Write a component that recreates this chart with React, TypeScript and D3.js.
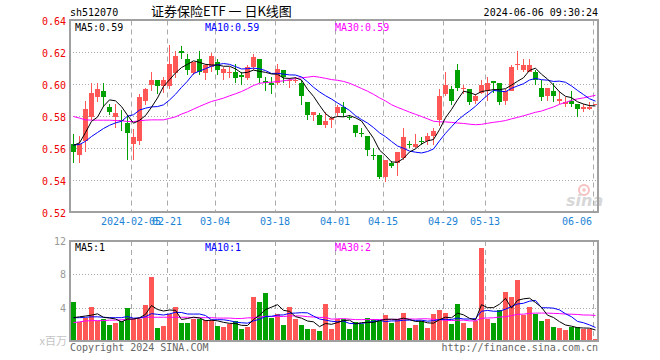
import * as d3 from 'd3';

// trading days shown (2024-01-22 .. 2024-06-06)
const dates = [
  '2024-01-22', '2024-01-23', '2024-01-24', '2024-01-25', '2024-01-26', '2024-01-29', '2024-01-30', '2024-01-31',
  '2024-02-01', '2024-02-02', '2024-02-05', '2024-02-06', '2024-02-07', '2024-02-08',
  '2024-02-19', '2024-02-20', '2024-02-21', '2024-02-22', '2024-02-23', '2024-02-26', '2024-02-27', '2024-02-28', '2024-02-29',
  '2024-03-01', '2024-03-04', '2024-03-05', '2024-03-06', '2024-03-07', '2024-03-08', '2024-03-11', '2024-03-12', '2024-03-13',
  '2024-03-14', '2024-03-15', '2024-03-18', '2024-03-19', '2024-03-20', '2024-03-21', '2024-03-22', '2024-03-25', '2024-03-26',
  '2024-03-27', '2024-03-28', '2024-03-29',
  '2024-04-01', '2024-04-02', '2024-04-03', '2024-04-08', '2024-04-09', '2024-04-10', '2024-04-11', '2024-04-12', '2024-04-15',
  '2024-04-16', '2024-04-17', '2024-04-18', '2024-04-19', '2024-04-22', '2024-04-23', '2024-04-24', '2024-04-25', '2024-04-26',
  '2024-04-29', '2024-04-30',
  '2024-05-06', '2024-05-07', '2024-05-08', '2024-05-09', '2024-05-10', '2024-05-13', '2024-05-14', '2024-05-15', '2024-05-16',
  '2024-05-17', '2024-05-20', '2024-05-21', '2024-05-22', '2024-05-23', '2024-05-24', '2024-05-27', '2024-05-28', '2024-05-29',
  '2024-05-30', '2024-05-31',
  '2024-06-03', '2024-06-04', '2024-06-05', '2024-06-06',
];

const open = [
  0.563, 0.556, 0.565, 0.580, 0.592, 0.596, 0.586, 0.580, 0.578, 0.576,
  0.563, 0.565, 0.590, 0.600, 0.603, 0.599, 0.599, 0.607, 0.621, 0.616,
  0.607, 0.616, 0.607, 0.611, 0.614, 0.607, 0.607, 0.608, 0.606, 0.604,
  0.611, 0.616, 0.602, 0.601, 0.601, 0.609, 0.602, 0.602, 0.601, 0.589,
  0.581, 0.581, 0.575, 0.578, 0.582, 0.586, 0.580, 0.575, 0.570, 0.568,
  0.556, 0.556, 0.542, 0.551, 0.551, 0.554, 0.563, 0.561, 0.565, 0.565,
  0.568, 0.578, 0.594, 0.597, 0.609, 0.597, 0.597, 0.590, 0.595, 0.596,
  0.602, 0.601, 0.590, 0.596, 0.612, 0.609, 0.608, 0.608, 0.598, 0.593,
  0.596, 0.590, 0.588, 0.590, 0.588, 0.585, 0.585, 0.587,
];
const high = [
  0.569, 0.568, 0.590, 0.601, 0.601, 0.601, 0.588, 0.588, 0.584, 0.581,
  0.572, 0.594, 0.598, 0.608, 0.603, 0.605, 0.625, 0.621, 0.624, 0.619,
  0.614, 0.621, 0.613, 0.620, 0.616, 0.611, 0.611, 0.613, 0.608, 0.612,
  0.619, 0.616, 0.605, 0.605, 0.613, 0.609, 0.604, 0.605, 0.603, 0.589,
  0.583, 0.582, 0.583, 0.580, 0.587, 0.589, 0.581, 0.575, 0.573, 0.568,
  0.560, 0.556, 0.553, 0.552, 0.558, 0.573, 0.565, 0.569, 0.567, 0.570,
  0.573, 0.597, 0.608, 0.599, 0.613, 0.600, 0.597, 0.594, 0.603, 0.605,
  0.602, 0.601, 0.597, 0.612, 0.621, 0.616, 0.616, 0.609, 0.603, 0.598,
  0.601, 0.596, 0.592, 0.596, 0.588, 0.588, 0.589, 0.588,
];
const low = [
  0.551, 0.551, 0.558, 0.578, 0.589, 0.586, 0.581, 0.573, 0.571, 0.553,
  0.553, 0.562, 0.587, 0.596, 0.594, 0.595, 0.597, 0.604, 0.616, 0.606,
  0.606, 0.606, 0.603, 0.608, 0.606, 0.603, 0.604, 0.601, 0.600, 0.603,
  0.609, 0.601, 0.596, 0.594, 0.600, 0.601, 0.598, 0.601, 0.587, 0.578,
  0.577, 0.575, 0.573, 0.573, 0.580, 0.580, 0.578, 0.567, 0.567, 0.555,
  0.553, 0.541, 0.539, 0.548, 0.543, 0.553, 0.560, 0.560, 0.562, 0.562,
  0.562, 0.574, 0.593, 0.587, 0.596, 0.594, 0.587, 0.588, 0.594, 0.590,
  0.595, 0.587, 0.587, 0.596, 0.609, 0.608, 0.608, 0.600, 0.590, 0.590,
  0.589, 0.588, 0.586, 0.586, 0.580, 0.583, 0.584, 0.587,
];
const close = [
  0.558, 0.563, 0.585, 0.595, 0.597, 0.592, 0.583, 0.582, 0.577, 0.570,
  0.567, 0.592, 0.597, 0.603, 0.599, 0.603, 0.613, 0.618, 0.620, 0.609,
  0.614, 0.608, 0.612, 0.618, 0.609, 0.610, 0.608, 0.604, 0.605, 0.611,
  0.617, 0.604, 0.601, 0.600, 0.610, 0.605, 0.603, 0.603, 0.593, 0.581,
  0.583, 0.575, 0.577, 0.579, 0.586, 0.582, 0.579, 0.570, 0.569, 0.559,
  0.555, 0.542, 0.553, 0.549, 0.558, 0.567, 0.562, 0.563, 0.564, 0.568,
  0.571, 0.593, 0.600, 0.590, 0.598, 0.598, 0.589, 0.593, 0.600, 0.601,
  0.601, 0.589, 0.596, 0.611, 0.613, 0.612, 0.612, 0.603, 0.592, 0.598,
  0.593, 0.591, 0.589, 0.588, 0.585, 0.586, 0.586, 0.588,
];

// volume, millions
const volume = [
  4.7, 2.3, 2.8, 4.1, 2.4, 2.6, 1.9, 2.2, 2.4, 4.0,
  2.7, 2.6, 4.3, 7.7, 1.6, 1.8, 3.2, 4.1, 2.2, 2.2,
  2.6, 2.7, 2.5, 2.5, 1.8, 1.7, 2.1, 2.4, 1.4, 1.7,
  5.3, 4.7, 5.8, 2.8, 3.2, 1.9, 4.1, 2.6, 1.9, 1.5,
  1.4, 1.2, 4.5, 1.4, 2.6, 2.6, 1.4, 2.3, 2.1, 2.8,
  2.6, 2.4, 3.1, 2.2, 2.6, 3.4, 1.6, 1.9, 2.4, 1.6,
  3.2, 3.7, 3.4, 2.0, 4.4, 2.2, 1.6, 2.4, 11.2, 2.6,
  2.2, 3.7, 5.9, 5.3, 7.3, 3.1, 4.1, 3.3, 2.4, 2.6,
  1.7, 1.6, 1.3, 1.7, 1.7, 1.5, 1.5, 0.2,
];

// MA values before a full window exists
const ma5Lead = [0.562, 0.5635, 0.57, 0.577];
const ma10Lead = [0.5622, 0.5625, 0.5645, 0.5675, 0.57, 0.5725, 0.5745, 0.576, 0.577];
const ma30Lead = [
  0.58, 0.579, 0.5779, 0.5777, 0.5777, 0.5777, 0.5777, 0.5775, 0.5773, 0.5769,
  0.5768, 0.5773, 0.5777, 0.5779, 0.5779, 0.5779, 0.5788, 0.5798, 0.5815, 0.5829,
  0.5846, 0.5863, 0.5879, 0.5894, 0.5904, 0.5915, 0.5929, 0.5942, 0.5956,
];
const vma5Lead = [2.8, 2.9, 3.0, 3.1];
const vma10Lead = [2.8, 2.8, 2.85, 2.9, 2.9, 2.85, 2.8, 2.8, 2.8];
const vma30Lead = [
  2.2, 2.3, 2.4, 2.45, 2.45, 2.45, 2.5, 2.5, 2.55, 2.6,
  2.65, 2.75, 2.85, 2.85, 2.85, 2.85, 2.85, 2.85, 2.85, 2.85,
  2.8, 2.8, 2.8, 2.8, 2.75, 2.75, 2.75, 2.7, 2.7,
];

// legend readouts as printed on the chart
const priceMaLabels = ['0.59', '0.59', '0.59'];
const volMaLabels = ['1', '1', '2'];

const priceTicks = [0.52, 0.54, 0.56, 0.58, 0.6, 0.62, 0.64];
const volTicks = [4, 8, 12];
const tickDates = ['2024-02-05', '2024-02-21', '2024-03-04', '2024-03-18', '2024-04-01', '2024-04-15', '2024-04-29', '2024-05-13', '2024-06-06'];

const RED = '#ff5656';
const GREEN = '#01a101';
const MONO = '"DejaVu Sans Mono", "Liberation Mono", monospace';
const CJK = '"Noto Sans CJK SC", sans-serif';

const movingAvg = (vals: number[], n: number, lead: number[]) =>
  vals.map((v, i) => (i < n - 1 ? lead[i] : (d3.mean(vals.slice(i - n + 1, i + 1)) as number)));

export default function App() {
  const left = 70, right = 598;
  const pTop = 20.5, pBottom = 212.5;
  const vTop = 241, vBottom = 341;

  const x = d3.scaleBand<string>().domain(dates).range([left, right]);
  const y = d3.scaleLinear().domain([0.52, 0.64]).range([pBottom, pTop]);
  const vy = d3.scaleLinear().domain([0, 12]).range([vBottom, vTop]);
  const cx = (i: number) => (x(dates[i]) as number) + 3.5;

  const ma5 = movingAvg(close, 5, ma5Lead);
  const ma10 = movingAvg(close, 10, ma10Lead);
  const ma30 = movingAvg(close, 30, ma30Lead);
  const vma5 = movingAvg(volume, 5, vma5Lead);
  const vma10 = movingAvg(volume, 10, vma10Lead);
  const vma30 = movingAvg(volume, 30, vma30Lead);

  const priceLine = d3.line<number>().x((_, i) => cx(i)).y((v) => y(v));
  const volLine = d3.line<number>().x((_, i) => cx(i)).y((v) => vy(v));

  const fmt = d3.format('.2f');

  return (
    <svg width={660} height={360} style={{ position: 'absolute', left: 0, top: 0, background: '#fff' }}>
      {/* header */}
      <text x={70} y={16} fontFamily={MONO} fontSize={10} fill="#000">sh512070</text>
      <text x={151} y={16} fontFamily={CJK} fontSize={13} fill="#000">证券保险ETF 一 日K线图</text>
      <text x={598} y={16} textAnchor="end" fontFamily={MONO} fontSize={10} fill="#000">2024-06-06 09:30:24</text>

      {/* grids */}
      {priceTicks.slice(1, -1).map((t) => (
        <line key={t} x1={left} x2={right} y1={y(t)} y2={y(t)} stroke="#aaa" strokeDasharray="1,2" />
      ))}
      {tickDates.map((d) => (
        <g key={d}>
          <line x1={(x(d) as number) + 1.5} x2={(x(d) as number) + 1.5} y1={pTop} y2={pBottom} stroke="#aaa" strokeDasharray="5,4" />
          <line x1={(x(d) as number) + 1.5} x2={(x(d) as number) + 1.5} y1={vTop} y2={vBottom} stroke="#aaa" strokeDasharray="5,4" />
        </g>
      ))}
      {volTicks.slice(0, -1).map((t) => (
        <line key={t} x1={left} x2={right} y1={Math.round(vy(t)) + 0.5} y2={Math.round(vy(t)) + 0.5} stroke="#aaa" strokeDasharray="1,2" />
      ))}

      {/* watermark */}
      <g opacity={0.55}>
        <circle cx={584} cy={190} r={5} fill="none" stroke="#f09090" strokeWidth={2} />
        <circle cx={584} cy={190} r={1.8} fill="#f09090" />
        <text x={566} y={206} fontFamily='"DejaVu Sans", sans-serif' fontStyle="italic" fontWeight="bold" fontSize={16} fill="#b8b8b8">sina</text>
      </g>

      {/* candles */}
      {dates.map((d, i) => {
        const up = close[i] >= open[i];
        const col = up ? RED : GREEN;
        const top = Math.round(y(Math.max(open[i], close[i])));
        const bot = Math.round(y(Math.min(open[i], close[i])));
        const bx = (x(d) as number) + 1;
        return (
          <g key={d}>
            <line x1={cx(i)} x2={cx(i)} y1={Math.round(y(high[i]))} y2={Math.round(y(low[i]))} stroke={col} />
            <rect x={bx} y={top} width={5} height={Math.max(1, bot - top)} fill={col} />
          </g>
        );
      })}

      <path d={priceLine(ma30) ?? ''} fill="none" stroke="#ff00ff" strokeWidth={1} />
      <path d={priceLine(ma10) ?? ''} fill="none" stroke="#0000ff" strokeWidth={1} />
      <path d={priceLine(ma5) ?? ''} fill="none" stroke="#000" strokeWidth={1} />

      {/* volume bars */}
      {dates.map((d, i) => {
        const col = close[i] >= open[i] ? RED : GREEN;
        const top = Math.round(vy(volume[i]));
        return <rect key={d} x={(x(d) as number) + 1} y={top} width={5} height={vBottom - top} fill={col} />;
      })}
      <path d={volLine(vma30) ?? ''} fill="none" stroke="#ff00ff" strokeWidth={1} />
      <path d={volLine(vma10) ?? ''} fill="none" stroke="#0000ff" strokeWidth={1} />
      <path d={volLine(vma5) ?? ''} fill="none" stroke="#000" strokeWidth={1} />

      {/* frames */}
      <rect x={left} y={20} width={right - left} height={192} fill="none" stroke="#a0a0a0" strokeWidth={2} />
      <rect x={left} y={vTop} width={right - left} height={vBottom - vTop} fill="none" stroke="#a0a0a0" strokeWidth={2} />

      {/* price axis */}
      {priceTicks.map((t) => (
        <text key={t} x={66} y={y(t) + 4} textAnchor="end" fontFamily={MONO} fontSize={10} fill="#ee0000">{fmt(t)}</text>
      ))}
      {tickDates.map((d, k) => {
        const label = k === 0 ? d : d.slice(5);
        const w = label.length * 6;
        const c = Math.min((x(d) as number) + 1, 592 - w / 2);
        return (
          <text key={d} x={c} y={225} textAnchor="middle" fontFamily={MONO} fontSize={10} fill="#1c84d6">{label}</text>
        );
      })}

      {/* MA labels */}
      <text x={75} y={31} fontFamily={MONO} fontSize={10} fill="#000">MA5:{priceMaLabels[0]}</text>
      <text x={205} y={31} fontFamily={MONO} fontSize={10} fill="#0000ff">MA10:{priceMaLabels[1]}</text>
      <text x={335} y={31} fontFamily={MONO} fontSize={10} fill="#ff00ff">MA30:{priceMaLabels[2]}</text>

      {/* volume axis */}
      {volTicks.map((t) => (
        <text key={t} x={66} y={vy(t) + 4} textAnchor="end" fontFamily={MONO} fontSize={10} fill="#999">{t}</text>
      ))}
      <text x={67} y={345} textAnchor="end" fontFamily={CJK} fontSize={11} fill="#c4c4c4">x百万</text>
      <text x={75} y={251} fontFamily={MONO} fontSize={10} fill="#000">MA5:{volMaLabels[0]}</text>
      <text x={205} y={251} fontFamily={MONO} fontSize={10} fill="#0000ff">MA10:{volMaLabels[1]}</text>
      <text x={335} y={251} fontFamily={MONO} fontSize={10} fill="#ff00ff">MA30:{volMaLabels[2]}</text>

      {/* footer */}
      <text x={70} y={351} fontFamily={MONO} fontSize={10} fill="#666">Copyright 2024 SINA.COM</text>
      <text x={598} y={351} textAnchor="end" fontFamily={MONO} fontSize={10} fill="#666">http://finance.sina.com.cn</text>
    </svg>
  );
}
